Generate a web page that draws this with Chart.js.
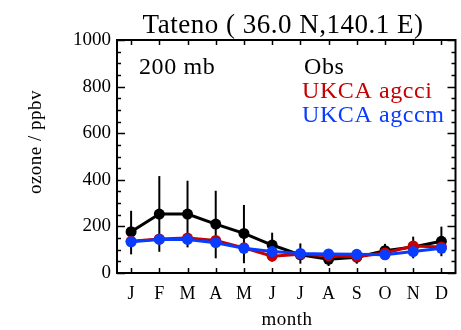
<!DOCTYPE html>
<html>
<head>
<meta charset="utf-8">
<script src="https://cdn.jsdelivr.net/npm/chart.js@4.4.1/dist/chart.umd.min.js"></script>
<style>
  html, body { margin: 0; padding: 0; background: #fff; }
  #wrap { width: 461px; height: 330px; position: relative; }
</style>
</head>
<body>
<div id="wrap"><canvas id="c" width="461" height="330"></canvas></div>
<script>
// Monthly ozone at 200 mb, Tateno
const months = ['J', 'F', 'M', 'A', 'M', 'J', 'J', 'A', 'S', 'O', 'N', 'D'];
const obs     = [177, 253, 253, 210, 170, 120, 78, 59, 68, 96, 112, 136];
const obsLow  = [80, 91, 110, 63, 42, 49, 40, 30, 40, 70, 63, 72];
const obsHigh = [267, 416, 396, 353, 292, 173, 127, 90, 95, 125, 156, 199];
const agcci   = [136, 146, 150, 140, 108, 72, 80, 74, 70, 86, 116, 112];
const agccm   = [134, 144, 144, 130, 106, 92, 84, 82, 80, 78, 92, 106];
const yTicks  = [0, 200, 400, 600, 800, 1000];

const SERIF = '"Liberation Serif", "DejaVu Serif", serif';
const RED = '#c40000';
const BLUE = '#0a3cff';

const framePlugin = {
  id: 'frame',
  beforeDatasetsDraw(chart) {
    const ctx = chart.ctx, x = chart.scales.x, y = chart.scales.y;
    ctx.save();
    ctx.strokeStyle = '#000';
    ctx.lineWidth = 2;
    for (let i = 0; i < obs.length; i++) {
      const px = x.getPixelForValue(i);
      ctx.beginPath();
      ctx.moveTo(px, y.getPixelForValue(obsLow[i]));
      ctx.lineTo(px, y.getPixelForValue(obsHigh[i]));
      ctx.stroke();
    }
    ctx.restore();
  },
  afterDraw(chart) {
    const ctx = chart.ctx, a = chart.chartArea, x = chart.scales.x, y = chart.scales.y;
    ctx.save();
    ctx.strokeStyle = '#000';
    ctx.lineWidth = 2;
    ctx.strokeRect(a.left, a.top, a.right - a.left, a.bottom - a.top);
    ctx.lineWidth = 1.5;
    ctx.beginPath();
    // month ticks, bottom and top, pointing inward
    for (let i = 0; i < months.length; i++) {
      const px = Math.round(x.getPixelForValue(i)) + 0.5;
      ctx.moveTo(px, a.bottom); ctx.lineTo(px, a.bottom - 5);
      ctx.moveTo(px, a.top); ctx.lineTo(px, a.top + 5);
    }
    // value ticks, left and right: major every 200, minor every 50
    for (let v = 0; v <= 1000; v += 50) {
      const py = Math.round(y.getPixelForValue(v)) + 0.5;
      const len = (v % 200 === 0) ? 8 : 4;
      ctx.moveTo(a.left, py); ctx.lineTo(a.left + len, py);
      ctx.moveTo(a.right, py); ctx.lineTo(a.right - len, py);
    }
    ctx.stroke();

    ctx.fillStyle = '#000';
    ctx.textBaseline = 'alphabetic';
    // title
    ctx.font = '27px ' + SERIF;
    ctx.textAlign = 'center';
    if ('letterSpacing' in ctx) ctx.letterSpacing = '0.5px';
    ctx.fillText('Tateno ( 36.0 N,140.1 E)', 283, 33);
    // level and legend texts
    ctx.textAlign = 'left';
    ctx.font = '24px ' + SERIF;
    if ('letterSpacing' in ctx) ctx.letterSpacing = '0.6px';
    ctx.fillText('200 mb', 139, 74);
    ctx.fillText('Obs', 304, 74);
    ctx.fillStyle = RED;
    ctx.fillText('UKCA agcci', 302, 98);
    ctx.fillStyle = BLUE;
    ctx.fillText('UKCA agccm', 302, 122);
    // axis titles
    ctx.fillStyle = '#000';
    ctx.font = '19px ' + SERIF;
    if ('letterSpacing' in ctx) ctx.letterSpacing = '0.5px';
    ctx.textAlign = 'center';
    ctx.fillText('month', 287, 325);
    ctx.save();
    ctx.translate(41, 142);
    ctx.rotate(-Math.PI / 2);
    ctx.fillText('ozone / ppbv', 0, 0);
    ctx.restore();
    ctx.restore();
  }
};

new Chart(document.getElementById('c'), {
  type: 'line',
  data: {
    labels: months,
    datasets: [
      { label: 'UKCA agccm', data: agccm, order: 1, borderColor: BLUE, backgroundColor: BLUE,
        borderWidth: 3, pointRadius: 5.5, pointBorderWidth: 0, pointStyle: 'circle' },
      { label: 'UKCA agcci', data: agcci, order: 2, borderColor: RED, backgroundColor: RED,
        borderWidth: 3, pointRadius: 5.5, pointBorderWidth: 0, pointStyle: 'circle' },
      { label: 'Obs', data: obs, order: 3, borderColor: '#000', backgroundColor: '#000',
        borderWidth: 3, pointRadius: 5.5, pointBorderWidth: 0, pointStyle: 'circle' }
    ]
  },
  options: {
    responsive: false,
    animation: false,
    events: [],
    layout: { padding: { top: 40, right: 3, bottom: 0, left: 0 } },
    plugins: { legend: { display: false }, tooltip: { enabled: false }, title: { display: false } },
    scales: {
      x: {
        type: 'category',
        offset: true,
        grid: { display: false, drawTicks: false },
        border: { display: false },
        ticks: { color: '#000', padding: 10, maxRotation: 0, autoSkip: false,
                 font: { family: SERIF, size: 18 } },
        afterFit(s) { s.height = 57; }
      },
      y: {
        min: 0, max: 1000,
        grid: { display: false, drawTicks: false },
        border: { display: false },
        afterBuildTicks(s) { s.ticks = yTicks.map(v => ({ value: v })); },
        ticks: { color: '#000', padding: 6, font: { family: SERIF, size: 19 },
                 callback: v => String(v) },
        afterFit(s) { s.width = 117; }
      }
    }
  },
  plugins: [framePlugin]
});
</script>
</body>
</html>
